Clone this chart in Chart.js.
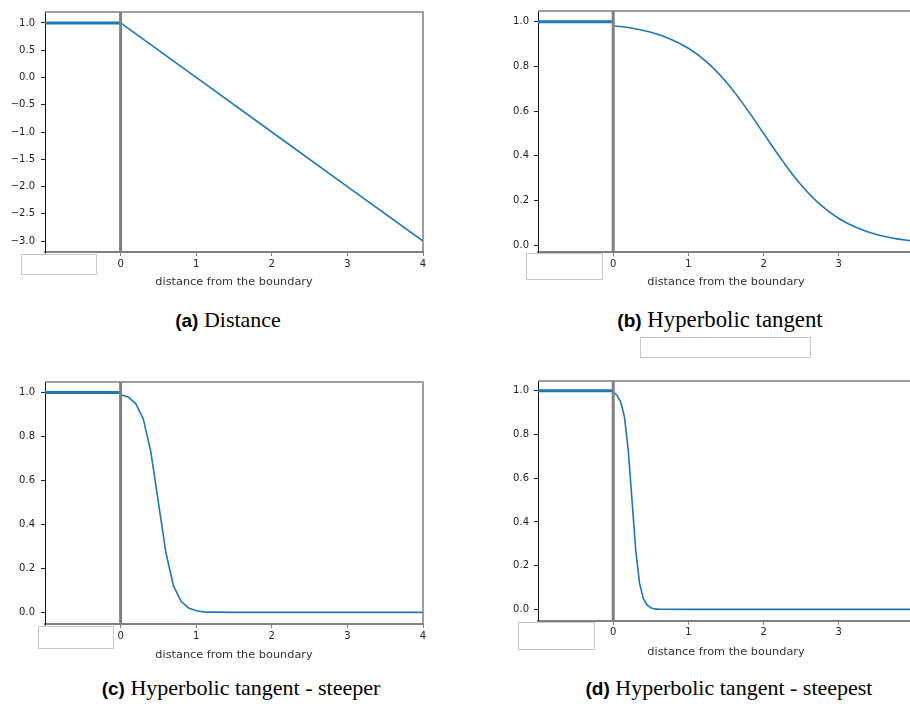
<!DOCTYPE html>
<html>
<head>
<meta charset="utf-8">
<script src="https://cdn.jsdelivr.net/npm/chart.js@4.4.1/dist/chart.umd.min.js"></script>
<style>
    html, body { margin: 0; padding: 0; background: #fff; width: 910px; height: 704px; overflow: hidden; }
    body { position: relative; }
    canvas { position: absolute; }
    .caption { position: absolute; width: 400px; text-align: center; white-space: nowrap;
               font-family: 'Liberation Serif', serif; font-size: 22px; line-height: 26px; color: #000; }
    .caption b { font-family: 'Liberation Sans', sans-serif; font-size: 19px; }
    .blank { position: absolute; background: #fff; border: 1px solid #c8c8c8; box-sizing: border-box; }
</style>
</head>
<body>
<canvas id="chart-a" width="440" height="300" style="left:0;top:0"></canvas>
<canvas id="chart-b" width="460" height="300" style="left:470px;top:0"></canvas>
<canvas id="chart-c" width="440" height="300" style="left:0;top:370px"></canvas>
<canvas id="chart-d" width="460" height="300" style="left:470px;top:370px"></canvas>

<div class="caption" style="left:28px;top:307px"><b>(a)</b> Distance</div>
<div class="caption" style="left:520px;top:307px;font-size:22.8px"><b>(b)</b> Hyperbolic tangent</div>
<div class="caption" style="left:41px;top:675px"><b>(c)</b> Hyperbolic tangent - steeper</div>
<div class="caption" style="left:529px;top:675px"><b>(d)</b> Hyperbolic tangent - steepest</div>

<!-- empty boxes that sit over the picture -->
<div class="blank" style="left:21px;top:254px;width:76px;height:21px"></div>
<div class="blank" style="left:526px;top:253px;width:77px;height:27px"></div>
<div class="blank" style="left:640px;top:337px;width:171px;height:21px"></div>
<div class="blank" style="left:38px;top:626px;width:76px;height:23px"></div>
<div class="blank" style="left:518px;top:622px;width:77px;height:28px"></div>

<script>
// Tick positions
const xTicks = [-1, 0, 1, 2, 3, 4];
const yTicksDistance = [-3.0, -2.5, -2.0, -1.5, -1.0, -0.5, 0.0, 0.5, 1.0];
const yTicksTanh = [0.0, 0.2, 0.4, 0.6, 0.8, 1.0];

// Inside the boundary every panel sits at 1
const insideX = [-1, 0];
const insideY = [1.0, 1.0];

// (a) Distance
const distanceX = [0, 1, 2, 3, 4];
const distanceY = [1.0, 0.0, -1.0, -2.0, -3.0];

// (b) Hyperbolic tangent
const tanhX = [0, 0.25, 0.5, 0.75, 1, 1.25, 1.5, 1.75, 2, 2.25, 2.5, 2.75, 3, 3.25, 3.5, 3.75, 4];
const tanhY = [0.982, 0.971, 0.953, 0.924, 0.881, 0.818, 0.731, 0.622, 0.50, 0.378, 0.269, 0.182, 0.119, 0.076, 0.047, 0.029, 0.018];

// (c) steeper
const steeperX = [0, 0.1, 0.2, 0.3, 0.4, 0.5, 0.6, 0.7, 0.8, 0.9, 1.0, 1.1, 1.2, 1.5, 2, 2.5, 3, 3.5, 4];
const steeperY = [0.99, 0.98, 0.95, 0.88, 0.73, 0.50, 0.27, 0.12, 0.05, 0.02, 0.007, 0.002, 0.001, 0, 0, 0, 0, 0, 0];

// (d) steepest
const steepestX = [0, 0.05, 0.1, 0.15, 0.2, 0.25, 0.3, 0.35, 0.4, 0.45, 0.5, 0.55, 0.6, 1, 2, 3, 4];
const steepestY = [0.995, 0.98, 0.95, 0.88, 0.73, 0.50, 0.27, 0.12, 0.05, 0.02, 0.007, 0.002, 0.001, 0, 0, 0, 0];

// Axis limits
const xRange = [-1, 4];
const yRangeDistance = [-3.2, 1.2];
const yRangeB = [-0.031, 1.048];
const yRangeC = [-0.053, 1.048];
const yRangeD = [-0.052, 1.045];

const BLUE = '#1f77b4';
const GREY = '#808080';
const TEXT = '#222';

const pts = (xs, ys) => xs.map((x, i) => ({ x: x, y: ys[i] }));

const fmt = v => (v < 0 ? '\u2212' + Math.abs(v).toFixed(1) : v.toFixed(1));

// top + right spines (grey)
const frame = {
    id: 'frame',
    afterDatasetsDraw(chart) {
        const { ctx, chartArea: a } = chart;
        ctx.save();
        ctx.strokeStyle = GREY;
        ctx.lineWidth = 1.5;
        ctx.beginPath();
        ctx.moveTo(a.left, a.top);
        ctx.lineTo(a.right, a.top);
        ctx.lineTo(a.right, a.bottom);
        ctx.stroke();
        ctx.restore();
    }
};

function makePanel(id, p) {
    const ctx = document.getElementById(id).getContext('2d');
    return new Chart(ctx, {
        type: 'line',
        data: {
            datasets: [
                {
                    // boundary line at x = 0
                    data: pts([0, 0], p.yRange),
                    borderColor: GREY,
                    borderWidth: 3
                },
                {
                    data: pts(insideX, insideY),
                    borderColor: BLUE,
                    borderWidth: 3
                },
                {
                    data: pts(p.xs, p.ys),
                    borderColor: BLUE,
                    borderWidth: 1.6,
                    tension: p.smooth ? 0.4 : 0
                }
            ]
        },
        options: {
            responsive: false,
            animation: false,
            devicePixelRatio: 1,
            events: [],
            layout: { padding: { top: p.top, right: p.right, left: 0, bottom: 0 } },
            elements: { point: { radius: 0 }, line: { tension: 0 } },
            plugins: { legend: { display: false }, tooltip: { enabled: false } },
            scales: {
                x: {
                    type: 'linear',
                    min: xRange[0],
                    max: xRange[1],
                    afterBuildTicks: s => { s.ticks = xTicks.map(v => ({ value: v })); },
                    afterFit: s => { s.height = p.xHeight; },
                    ticks: {
                        autoSkip: false, maxRotation: 0, padding: 2,
                        color: TEXT, font: { family: 'DejaVu Sans', size: 10 },
                        callback: v => (v === -1 ? '' : String(v))
                    },
                    grid: { drawOnChartArea: false, drawTicks: true, tickLength: 4, tickColor: GREY },
                    border: { display: true, color: GREY, width: 2 },
                    title: {
                        display: true, text: 'distance from the boundary', color: '#333',
                        font: { family: 'DejaVu Sans', size: 11.3 }, padding: { top: 0, bottom: p.titlePad }
                    }
                },
                y: {
                    type: 'linear',
                    min: p.yRange[0],
                    max: p.yRange[1],
                    afterBuildTicks: s => { s.ticks = p.yTicks.map(v => ({ value: v })); },
                    afterFit: s => { s.width = p.yWidth; },
                    ticks: {
                        autoSkip: false, padding: p.yPad,
                        color: TEXT, font: { family: 'DejaVu Sans', size: 10 },
                        callback: v => fmt(v)
                    },
                    grid: { drawOnChartArea: false, drawTicks: true, tickLength: 4, tickColor: '#222' },
                    border: { display: true, color: '#111', width: 1 }
                }
            }
        },
        plugins: [frame]
    });
}

makePanel('chart-a', {
    xs: distanceX, ys: distanceY, smooth: false,
    yTicks: yTicksDistance, yRange: yRangeDistance,
    top: 7.5, right: 17, xHeight: 48, yWidth: 45, yPad: 6, titlePad: 11.2
});
makePanel('chart-b', {
    xs: tanhX, ys: tanhY, smooth: true,
    yTicks: yTicksTanh, yRange: yRangeB,
    top: 7, right: 16, xHeight: 48, yWidth: 68, yPad: 5, titlePad: 10.9
});
makePanel('chart-c', {
    xs: steeperX, ys: steeperY, smooth: false,
    yTicks: yTicksTanh, yRange: yRangeC,
    top: 9.3, right: 17, xHeight: 46, yWidth: 45, yPad: 6, titlePad: 8.2
});
makePanel('chart-d', {
    xs: steepestX, ys: steepestY, smooth: false,
    yTicks: yTicksTanh, yRange: yRangeD,
    top: 6, right: 16, xHeight: 49.3, yWidth: 68, yPad: 5, titlePad: 10.9
});
</script>
</body>
</html>
